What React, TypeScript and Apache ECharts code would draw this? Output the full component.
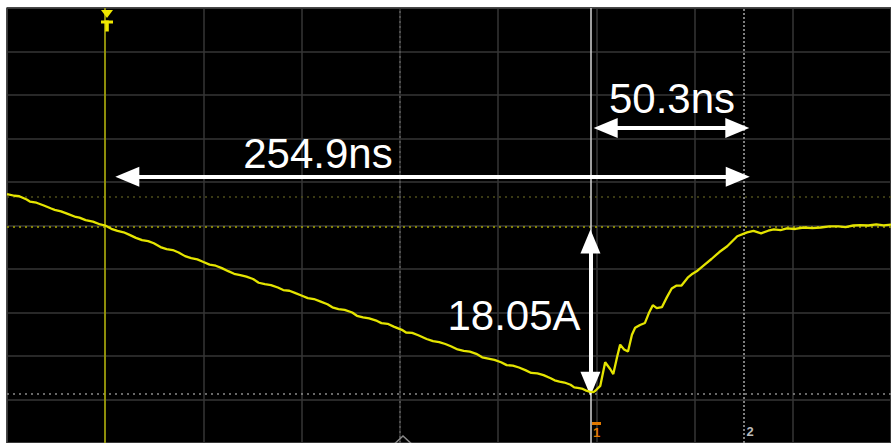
import React, { useEffect, useRef } from "react";
import * as echarts from "echarts";

// Trace: time (ns, trigger at 0) and current (A, 5 A/div)
const traceTime = [
  -40, -37, -35, -32, -30.7, -28, -25, -22, -20.6, -18, -15, -12, -10.5, -8, -5, -2, 0,
  2.5, 5, 7.5, 9.7, 12.5, 15, 17.5, 19.8, 22.5, 25, 27.5, 29.9, 32.5, 35, 37.5, 40, 42.5, 45,
  47.5, 50.1, 52.5, 55, 57.5, 60.2, 62.5, 65, 67.5, 70.3, 72.5, 75, 77.5, 80.4, 82.5, 85,
  87.5, 90.5, 92.5, 95, 97.5, 100.6, 102.5, 105, 107.5, 110.7, 112.5, 115, 117.5, 120.8,
  122.5, 125, 127.5, 130.9, 133.5, 136, 138.5, 141, 143.5, 146, 148.5, 151.1, 153.5, 156,
  158.5, 161.2, 163.5, 166, 168.5, 171.3, 173.5, 176, 178.5, 181.4, 183, 185, 187, 189.5,
  191, 193, 194.5, 195.6, 197.2, 198.8,
  199.6, 201.6, 203.6, 205.7, 206.9, 208.5, 209.7, 211.3, 212.9, 214.5, 215.8, 217.8, 219.8,
  221.4, 223.0, 224.6, 226.7, 228.7, 230.7, 232.7, 234.7, 237.2, 239.2, 241.2, 244.0, 246.9,
  250.1, 253.3, 257.4, 261.4, 264, 267.1, 270, 272.3, 275, 277.6, 281, 284.4, 288, 291.3,
  295, 298.6, 301.5, 304.6, 307.5, 310.7, 314, 317, 320,
];
const traceCurrent = [
  3.62, 3.42, 3.36, 2.98, 2.75, 2.62, 2.3, 1.95, 1.8, 1.62, 1.3, 0.98, 0.9, 0.62, 0.45, 0.12, 0,
  -0.38, -0.62, -0.78, -1.05, -1.42, -1.68, -1.8, -2.04, -2.48, -2.71, -2.82, -3.1, -3.52,
  -3.75, -3.9, -4.19, -4.5, -4.62, -4.9, -5.25, -5.55, -5.7, -5.88, -6.15, -6.58, -6.75,
  -6.85, -7.13, -7.42, -7.5, -7.78, -8.1, -8.35, -8.45, -8.72, -9.05, -9.4, -9.6, -9.7,
  -10.0, -10.38, -10.55, -10.68, -10.97, -11.22, -11.3, -11.62, -11.99, -12.3, -12.35,
  -12.62, -13.05, -13.3, -13.4, -13.62, -13.91, -14.25, -14.4, -14.5, -14.75, -15.15,
  -15.3, -15.45, -15.72, -16.05, -16.1, -16.32, -16.65, -16.95, -17.0, -17.2, -17.55,
  -17.8, -17.95, -18.05, -18.3, -18.6, -18.7, -18.78, -18.95, -19.1, -19.15,
  -19.0, -18.44, -15.72, -16.52, -17.08, -15.05, -13.69, -14.25, -14.48, -12.56, -11.76,
  -11.43, -11.2, -10.07, -9.16, -9.5, -9.39, -8.26, -7.24, -6.9, -6.9, -6.0, -5.54, -5.2,
  -4.52, -3.85, -3.05, -2.38, -1.24, -0.79, -0.62, -0.9, -0.6, -0.45, -0.52, -0.34, -0.4,
  -0.23, -0.3, -0.23, -0.1, -0.11, -0.18, 0, 0.05, 0, 0.12, 0.02, 0.11,
];

// Cursors and markers
const triggerTime = 0;
const centerTime = 120;
const cursor1Time = 197.6;
const cursor2Time = 260.2;
const refLevel = -0.1;
const minLevel = -19.34;
const trigLevel = 3.28;

// Annotation arrows (endpoints in data units) and texts
const arrowTotal = [[9.0, 5.6], [257.6, 5.6]];
const arrowFall = [[203.8, 11.2], [257.4, 11.2]];
const arrowAmp = [[197.6, -1.85], [197.6, -18.2]];
const labelTotal = "254.9ns";
const labelFall = "50.3ns";
const labelAmp = "18.05A";

const FONT = "'Liberation Sans', Arial, sans-serif";

export default function App() {
  const ref = useRef<HTMLDivElement>(null);
  useEffect(() => {
    if (!ref.current) return;
    const chart = echarts.init(ref.current, undefined, { renderer: "svg" });
    const data = traceTime.map((t, i) => [t, traceCurrent[i]]);
    const vLine = (x: number, color: string, type: any, width = 1.5) => ({
      xAxis: x,
      lineStyle: { color, type, width },
    });
    const hLine = (y: number, color: string, type: any, width = 1.5) => ({
      yAxis: y,
      lineStyle: { color, type, width },
    });
    const arrow = (pts: number[][]) => [{ coord: pts[0] }, { coord: pts[1] }];
    chart.setOption({
      animation: false,
      grid: {
        left: 7,
        right: -7,
        top: 8,
        bottom: -7,
        show: true,
        backgroundColor: "#000",
        borderColor: "#555",
        borderWidth: 1.5,
      },
      xAxis: {
        type: "value",
        min: -40,
        max: 320,
        interval: 40,
        axisLabel: { show: false },
        axisLine: { show: false },
        axisTick: { show: false },
        splitLine: { lineStyle: { color: "#363636", width: 1.5 } },
      },
      yAxis: {
        type: "value",
        min: -25,
        max: 25,
        interval: 5,
        axisLabel: { show: false },
        axisLine: { show: false },
        axisTick: { show: false },
        splitLine: { lineStyle: { color: "#363636", width: 1.5 } },
      },
      series: [
        {
          type: "line",
          data: [],
          z: 2,
          markLine: {
            silent: true,
            symbol: "none",
            label: { show: false },
            data: [
              vLine(centerTime, "#5c5c5c", [2, 3]),
              hLine(trigLevel, "#4d4d1a", [2, 4]),
              hLine(refLevel, "#a8a800", [2, 4]),
              hLine(minLevel, "#8a8a8a", [2, 4]),
              vLine(triggerTime, "#b0b000", "solid"),
              vLine(cursor2Time, "#a8a8a8", [2, 2]),
              vLine(cursor1Time, "#d4d4d4", "solid"),
            ],
          },
        },
        {
          type: "line",
          data,
          z: 5,
          showSymbol: false,
          lineStyle: { color: "#e4e400", width: 2.3 },
        },
        {
          type: "line",
          data: [],
          z: 8,
          markLine: {
            silent: true,
            symbol: ["triangle", "triangle"],
            symbolSize: [20, 24],
            label: { show: false },
            lineStyle: { color: "#fff", width: 4, type: "solid" },
            itemStyle: { color: "#fff" },
            data: [arrow(arrowTotal), arrow(arrowFall), arrow(arrowAmp)],
          },
        },
      ],
      graphic: [
        {
          type: "text",
          x: 318,
          y: 153,
          z: 20,
          style: {
            text: labelTotal,
            fill: "#fff",
            font: `42px ${FONT}`,
            align: "center",
            verticalAlign: "middle",
          },
        },
        {
          type: "text",
          x: 672,
          y: 98,
          z: 20,
          style: {
            text: labelFall,
            fill: "#fff",
            font: `42px ${FONT}`,
            align: "center",
            verticalAlign: "middle",
          },
        },
        {
          type: "text",
          x: 514,
          y: 315,
          z: 20,
          style: {
            text: labelAmp,
            fill: "#fff",
            font: `42px ${FONT}`,
            align: "center",
            verticalAlign: "middle",
          },
        },
        {
          type: "polygon",
          z: 20,
          shape: { points: [[101, 10], [113, 10], [107, 18]] },
          style: { fill: "#f0e800" },
        },
        {
          type: "rect",
          z: 20,
          shape: { x: 101, y: 20.5, width: 12, height: 3 },
          style: { fill: "#f0e800" },
        },
        {
          type: "rect",
          z: 20,
          shape: { x: 105.2, y: 20.5, width: 3.6, height: 11 },
          style: { fill: "#f0e800" },
        },
        {
          type: "rect",
          z: 20,
          shape: { x: 592, y: 422, width: 9, height: 3 },
          style: { fill: "#e07800" },
        },
        {
          type: "text",
          x: 596.5,
          y: 432,
          z: 20,
          style: {
            text: "1",
            fill: "#e07800",
            font: `bold 13px ${FONT}`,
            align: "center",
            verticalAlign: "middle",
          },
        },
        {
          type: "text",
          x: 750,
          y: 431,
          z: 20,
          style: {
            text: "2",
            fill: "#bbbbbb",
            font: `bold 13px ${FONT}`,
            align: "center",
            verticalAlign: "middle",
          },
        },
        {
          type: "polyline",
          z: 20,
          shape: { points: [[390, 448], [403, 436], [416, 448]] },
          style: { stroke: "#8a8a8a", lineWidth: 1.5, fill: "none" },
        },
      ],
    });
    return () => chart.dispose();
  }, []);
  return (
    <div
      ref={ref}
      style={{ position: "fixed", left: 0, top: 0, width: 891, height: 443, background: "#fff" }}
    />
  );
}
